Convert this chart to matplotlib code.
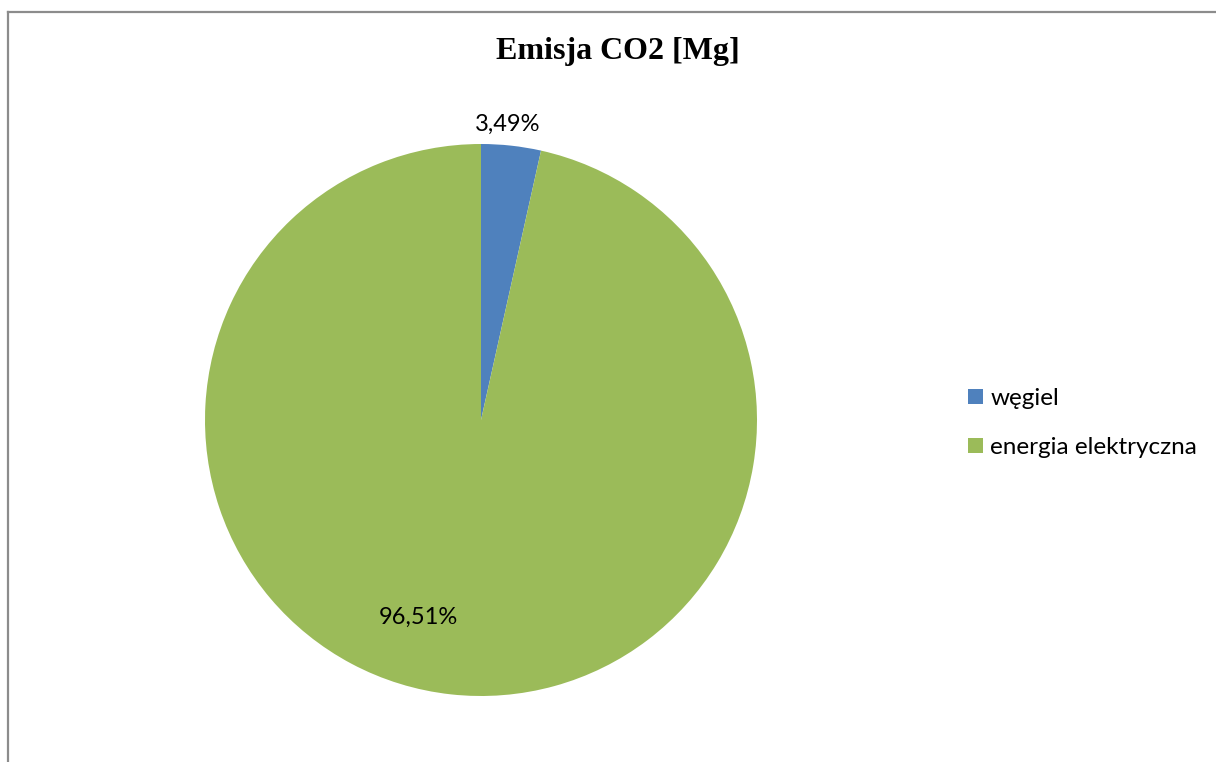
import matplotlib
matplotlib.use("Agg")
import matplotlib.pyplot as plt
from matplotlib.lines import Line2D

# dane wykresu
kategorie = ["węgiel", "energia elektryczna"]
udzialy = [3.49, 96.51]
kolory = ["#4F81BD", "#9BBB59"]
tytul = "Emisja CO2 [Mg]"

W, H = 1216, 762
fig = plt.figure(figsize=(W / 100, H / 100), dpi=100)
fig.patch.set_facecolor("white")

# ramka obszaru wykresu (przycięta z prawej i z dołu)
szary = "#8C8C8C"
fig.add_artist(Line2D([7.5 / W, 7.5 / W], [0, 1 - 11.5 / H], color=szary, lw=1.6, transform=fig.transFigure))
fig.add_artist(Line2D([7.5 / W, 1], [1 - 11.5 / H, 1 - 11.5 / H], color=szary, lw=1.6, transform=fig.transFigure))

# oś kołowa
cx, cy, r = 481, 420, 276
ax = fig.add_axes([(cx - r) / W, (H - cy - r) / H, 2 * r / W, 2 * r / H])
wedges, _ = ax.pie(udzialy, colors=kolory, startangle=90, counterclock=False,
                   wedgeprops=dict(linewidth=0))
ax.set_xlim(-1, 1)
ax.set_ylim(-1, 1)
ax.set_aspect("equal")
ax.axis("off")

# etykiety procentowe (pozycje jak w Excelu)
pozycje = [(0.098, 1.072), (-0.228, -0.714)]
for u, (x, y) in zip(udzialy, pozycje):
    ax.text(x, y, f"{u:.2f}%".replace(".", ","), ha="center", va="center",
            fontsize=17, family=["Lato", "DejaVu Sans"], color="black", clip_on=False)

fig.text(618 / W, 1 - 52 / H, tytul, ha="center", va="center", fontsize=23,
         fontweight="bold", family="Liberation Serif")

leg = fig.legend(wedges, kategorie, loc="center left", bbox_to_anchor=(951 / W, 1 - 423 / H),
                 frameon=False, prop=dict(family=["Lato", "DejaVu Sans"], size=17.5),
                 handlelength=0.62, handleheight=0.62, handletextpad=0.3, labelspacing=1.15,
                 borderpad=0.2)

fig.savefig("out.png", dpi=100, facecolor="white")
